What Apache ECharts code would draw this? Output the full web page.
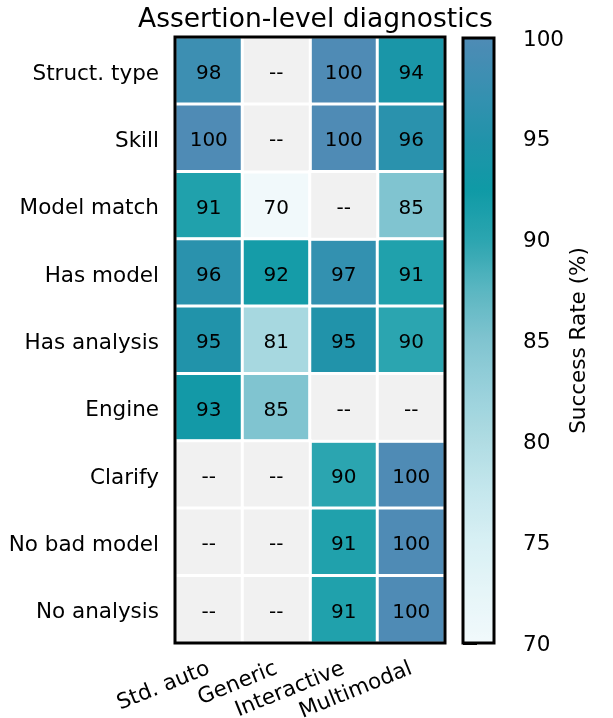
<!DOCTYPE html>
<html>
<head>
<meta charset="utf-8">
<script src="https://cdn.jsdelivr.net/npm/echarts@6/dist/echarts.min.js"></script>
<style>
  html, body { margin: 0; padding: 0; background: #fff; }
  #chart { width: 613px; height: 718px; }
</style>
</head>
<body>
<div id="chart"></div>
<script>
const columns = ['Std. auto', 'Generic', 'Interactive', 'Multimodal']
const rows = ['Struct. type', 'Skill', 'Model match', 'Has model', 'Has analysis',
  'Engine', 'Clarify', 'No bad model', 'No analysis']
// one array per row, null = not measured
const rates = [
  [98, null, 100, 94],
  [100, null, 100, 96],
  [91, 70, null, 85],
  [96, 92, 97, 91],
  [95, 81, 95, 90],
  [93, 85, null, null],
  [null, null, 90, 100],
  [null, null, 91, 100],
  [null, null, 91, 100]
]
const colorTicks = [70, 75, 80, 85, 90, 95, 100]

const font = 'DejaVu Sans'
const cells = []
const missing = []
rates.forEach((row, r) => {
  row.forEach((v, c) => {
    if (v === null) missing.push([c, r, 0])
    else cells.push([c, r, v])
  })
})

const chart = echarts.init(document.getElementById('chart'))
chart.setOption({
  backgroundColor: '#fff',
  animation: false,
  textStyle: { fontFamily: font },
  title: {
    text: 'Assertion-level diagnostics',
    left: 133,
    top: 2,
    textStyle: { fontFamily: font, fontSize: 26.5, fontWeight: 'normal', color: '#000' }
  },
  grid: [
    { left: 175, right: 168, top: 37, bottom: 75, show: true, z: 10, outerBoundsMode: 'none',
      containLabel: false, backgroundColor: 'transparent', borderColor: '#000', borderWidth: 3 },
    { left: 463, width: 31, top: 38, height: 605, show: true, z: 10, outerBoundsMode: 'none',
      containLabel: false, backgroundColor: 'transparent', borderColor: '#000', borderWidth: 3 }
  ],
  xAxis: [
    {
      type: 'category', data: columns, gridIndex: 0,
      axisLine: { show: false }, axisTick: { show: false }, splitLine: { show: false },
      axisLabel: { rotate: 22, fontSize: 21.5, color: '#000', margin: 25, interval: 0 }
    },
    { type: 'value', gridIndex: 1, min: 0, max: 1, show: false }
  ],
  yAxis: [
    {
      type: 'category', data: rows, gridIndex: 0, inverse: true,
      axisLine: { show: false }, axisTick: { show: false }, splitLine: { show: false },
      axisLabel: {
        fontSize: 21.5, color: '#000', margin: 16, interval: 0,
        formatter: v => '{a|' + v + '}',
        rich: { a: { fontSize: 21.5, color: '#000', padding: [7, 0, 0, 0] } }
      }
    },
    {
      type: 'value', gridIndex: 1, position: 'right', min: colorTicks[0],
      max: colorTicks[colorTicks.length - 1], interval: 5,
      axisLine: { show: false },
      axisTick: { show: true, length: 14, lineStyle: { color: '#000', width: 3 } },
      splitLine: { show: false },
      axisLabel: {
        fontSize: 21.5, color: '#000', margin: 29,
        formatter: v => '{a|' + v + '}',
        rich: { a: { fontSize: 21.5, color: '#000', padding: [4, 0, 0, 0] } }
      },
      name: 'Success Rate (%)', nameLocation: 'middle', nameGap: 70, nameRotate: 90,
      nameTextStyle: { fontSize: 21.5, color: '#000' }
    }
  ],
  visualMap: {
    type: 'continuous',
    seriesIndex: 0,
    min: colorTicks[0], max: colorTicks[colorTicks.length - 1],
    calculable: false,
    orient: 'vertical',
    left: 463, top: 38,
    itemWidth: 31, itemHeight: 605,
    padding: 0,
    text: ['', ''],
    showLabel: false,
    inRange: {
      color: ['#f1f9fb', '#e6f5f8', '#d8f0f4', '#c5e7ed', '#b0dce3', '#99d1db',
        '#80c4d0', '#5bb6c1', '#2ba5b0', '#0f9aa6', '#2193aa', '#3890b1', '#4f8bb5']
    }
  },
  series: [
    {
      type: 'heatmap', data: cells, xAxisIndex: 0, yAxisIndex: 0,
      itemStyle: { borderColor: '#fff', borderWidth: 3 },
      label: { show: true, fontSize: 20, color: '#000', offset: [0, 3], formatter: p => p.value[2] },
      emphasis: { disabled: true }
    },
    {
      type: 'heatmap', data: missing, xAxisIndex: 0, yAxisIndex: 0,
      itemStyle: { color: '#f1f1f1', borderColor: '#fff', borderWidth: 3 },
      label: { show: true, fontSize: 20, color: '#000', offset: [0, 3], formatter: '--' },
      emphasis: { disabled: true }
    },
    { type: 'scatter', data: [], xAxisIndex: 1, yAxisIndex: 1 }
  ]
})
</script>
</body>
</html>
